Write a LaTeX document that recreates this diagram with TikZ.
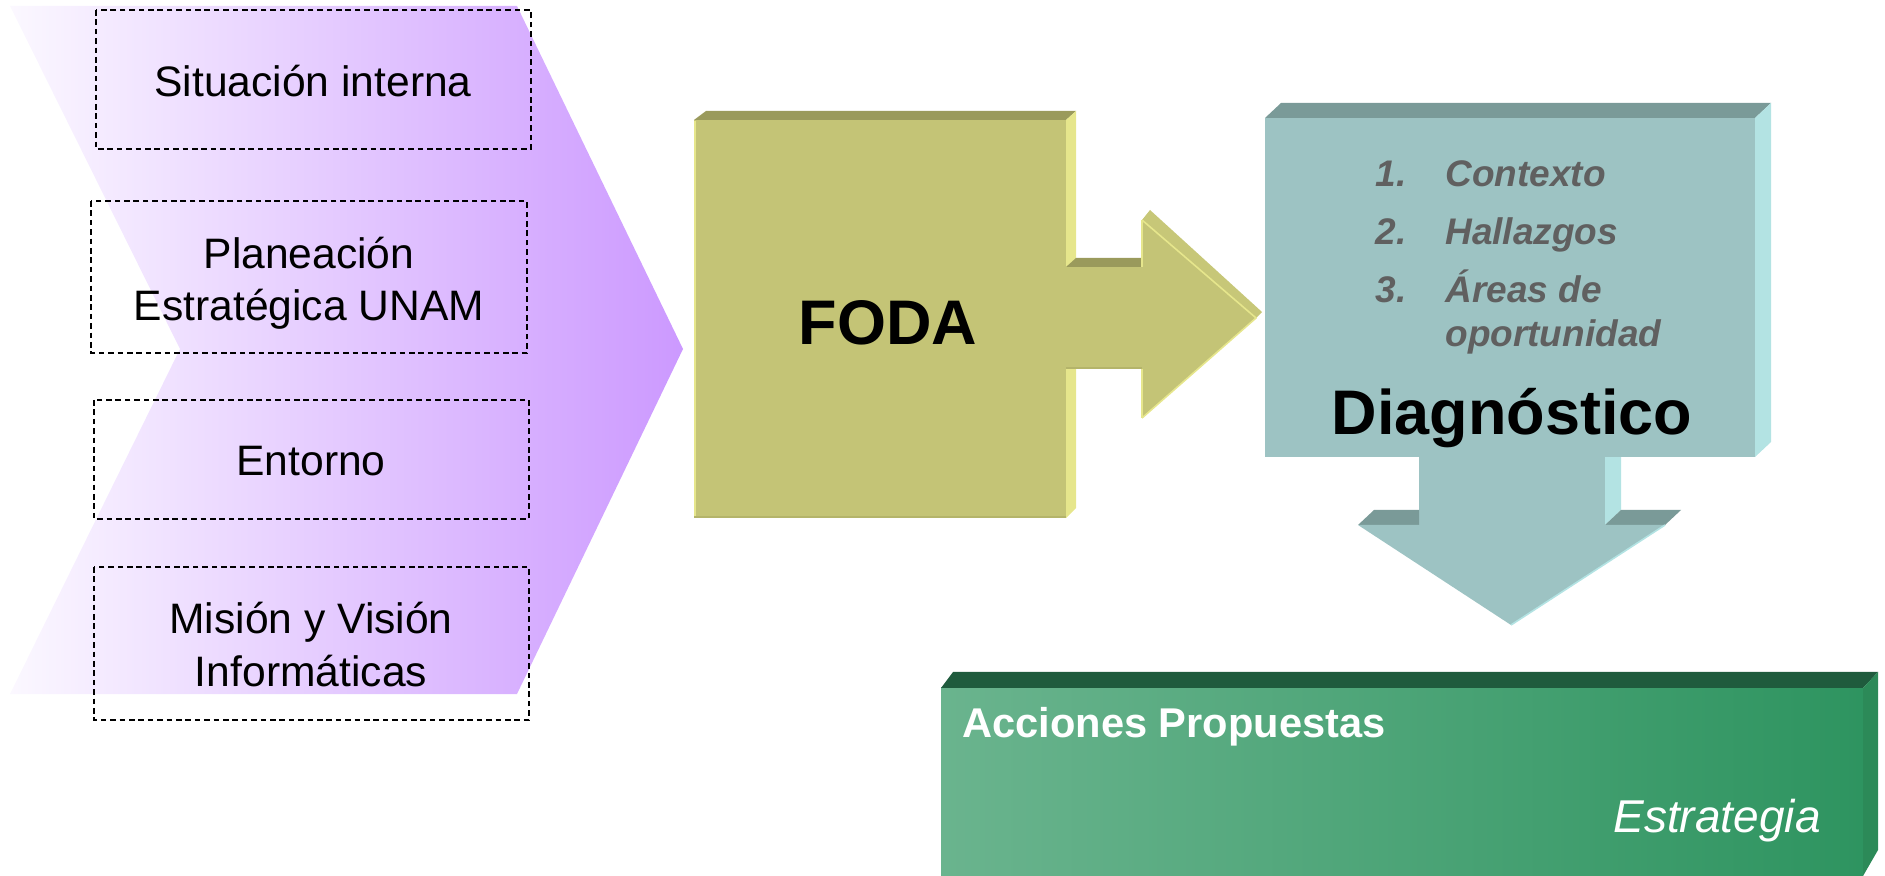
\documentclass[tikz,border=0pt]{standalone}
\usepackage{fontspec}
\setmainfont{Liberation Sans}
\definecolor{purp}{HTML}{CC99FF}
\definecolor{purpl}{HTML}{FBF8FF}
\definecolor{olF}{HTML}{C4C476}
\definecolor{olT}{HTML}{9A9A5C}
\definecolor{olR}{HTML}{E6E68C}
\definecolor{olD}{HTML}{B4B46A}
\definecolor{tlF}{HTML}{9DC3C3}
\definecolor{tlT}{HTML}{7A9A98}
\definecolor{tlR}{HTML}{B3E3E3}
\definecolor{grL}{HTML}{6AB48E}
\definecolor{grR}{HTML}{2E9460}
\definecolor{grT}{HTML}{1F5B3D}
\definecolor{grS}{HTML}{2C8A58}
\definecolor{lgray}{HTML}{606060}
\begin{document}
\begin{tikzpicture}[x=0.5pt,y=-0.5pt,
  dbox/.style={draw=black, line width=0.9pt, dash pattern=on 2.8pt off 1.9pt},
  ltxt/.style={font=\fontsize{21.3}{26}\selectfont, align=center, anchor=base, inner sep=0pt},
  big/.style={font=\fontsize{31.5}{36}\selectfont\bfseries, anchor=base, inner sep=0pt},
  itm/.style={font=\fontsize{18.5}{22}\selectfont\bfseries\itshape, text=lgray, inner sep=0pt},
  gtxt/.style={text=white, inner sep=0pt}
]
\useasboundingbox (0,0) rectangle (1885,876);

% chevron
\shade[left color=purpl, right color=purp] (10,6) -- (517,6) -- (683,349) -- (517,694) -- (10,694) -- (180,349) -- cycle;

% dashed boxes
\path[dbox] (96,10) rectangle (531,149);
\path[dbox] (91,201) rectangle (527,353);
\path[dbox] (94,400) rectangle (529,519);
\path[dbox] (94,567) rectangle (529,720);
\node[ltxt] (t1) at (313,97) {Situación interna};
\node[ltxt] (t2) at (309,321) {Planeación\\Estratégica UNAM};
\node[ltxt] (t3) at (311,476) {Entorno};
\node[ltxt] (t4) at (311,686) {Misión y Visión\\Informáticas};

% FODA block
\fill[olT] (694,120) -- (706,111) -- (1076,111) -- (1066,120) -- cycle;
\fill[olR] (1066,120) -- (1076,111) -- (1076,508) -- (1066,518) -- cycle;
\fill[olF] (694,120) rectangle (1066,518);
\draw[olR, line width=0.8pt] (695,121) -- (695,517);
\draw[olD, line width=0.8pt] (694,517) -- (1066,517);
% shaft
\fill[olT] (1066,267) -- (1076,258) -- (1142,258) -- (1142,267) -- cycle;
\fill[olF] (1064,267) rectangle (1143,369);
\draw[olD, line width=0.8pt] (1066,368) -- (1142,368);
% arrowhead
\fill[olF!90!olR] (1142,220) -- (1150,210) -- (1262,312) -- (1256,318) -- cycle;
\fill[olF] (1142,220) -- (1256,318) -- (1142,418) -- cycle;
\draw[olR, line width=0.8pt] (1142,220) -- (1256,318) -- (1142,418);
\draw[olR, line width=0.8pt] (1142,220) -- (1142,267) (1142,369) -- (1142,418);
\node[big] (foda) at (888,345) {FODA};

% Diagnostico block
\fill[tlT] (1265,118) -- (1281,103) -- (1771,103) -- (1755,118) -- cycle;
\fill[tlR] (1755,118) -- (1771,103) -- (1771,442) -- (1755,457) -- cycle;
\fill[tlR] (1605,455) -- (1621,455) -- (1621,510) -- (1605,525) -- cycle;
\fill[tlF] (1265,118) rectangle (1755,457);
\fill[tlF] (1419,455) rectangle (1605,526);
\fill[tlT] (1358,525) -- (1374,510) -- (1419,510) -- (1419,525) -- cycle;
\fill[tlT] (1605,525) -- (1621,510) -- (1681,510) -- (1665,525) -- cycle;
\fill[tlF] (1358,525) -- (1665,525) -- (1511,625) -- cycle;
\draw[tlR, line width=0.8pt] (1665,525) -- (1511,625);

\node[itm, anchor=base east] (n1) at (1407,187) {1.};
\node[itm, anchor=base west] (i1) at (1445,187) {Contexto};
\node[itm, anchor=base east] (n2) at (1407,245) {2.};
\node[itm, anchor=base west] (i2) at (1445,245) {Hallazgos};
\node[itm, anchor=base east] (n3) at (1407,303) {3.};
\node[itm, anchor=base west] (i3) at (1445,303) {Áreas de};
\node[itm, anchor=base west] (i4) at (1445,347) {oportunidad};
\node[big] (diag) at (1512,435) {Diagnóstico};

% Green block
\shade[left color=grL, right color=grR] (941,688) rectangle (1863,876);
\fill[grT] (941,688) -- (953,672) -- (1878,672) -- (1863,688) -- cycle;
\fill[grS] (1863,688) -- (1878,672) -- (1878,850) -- (1863,876) -- cycle;
\node[gtxt, font=\fontsize{20.8}{24}\selectfont\bfseries, anchor=base west] (acc) at (962,737) {Acciones Propuestas};
\node[gtxt, font=\fontsize{23}{27}\selectfont\itshape, anchor=base east] (est) at (1821,832) {Estrategia};
\end{tikzpicture}
\end{document}
